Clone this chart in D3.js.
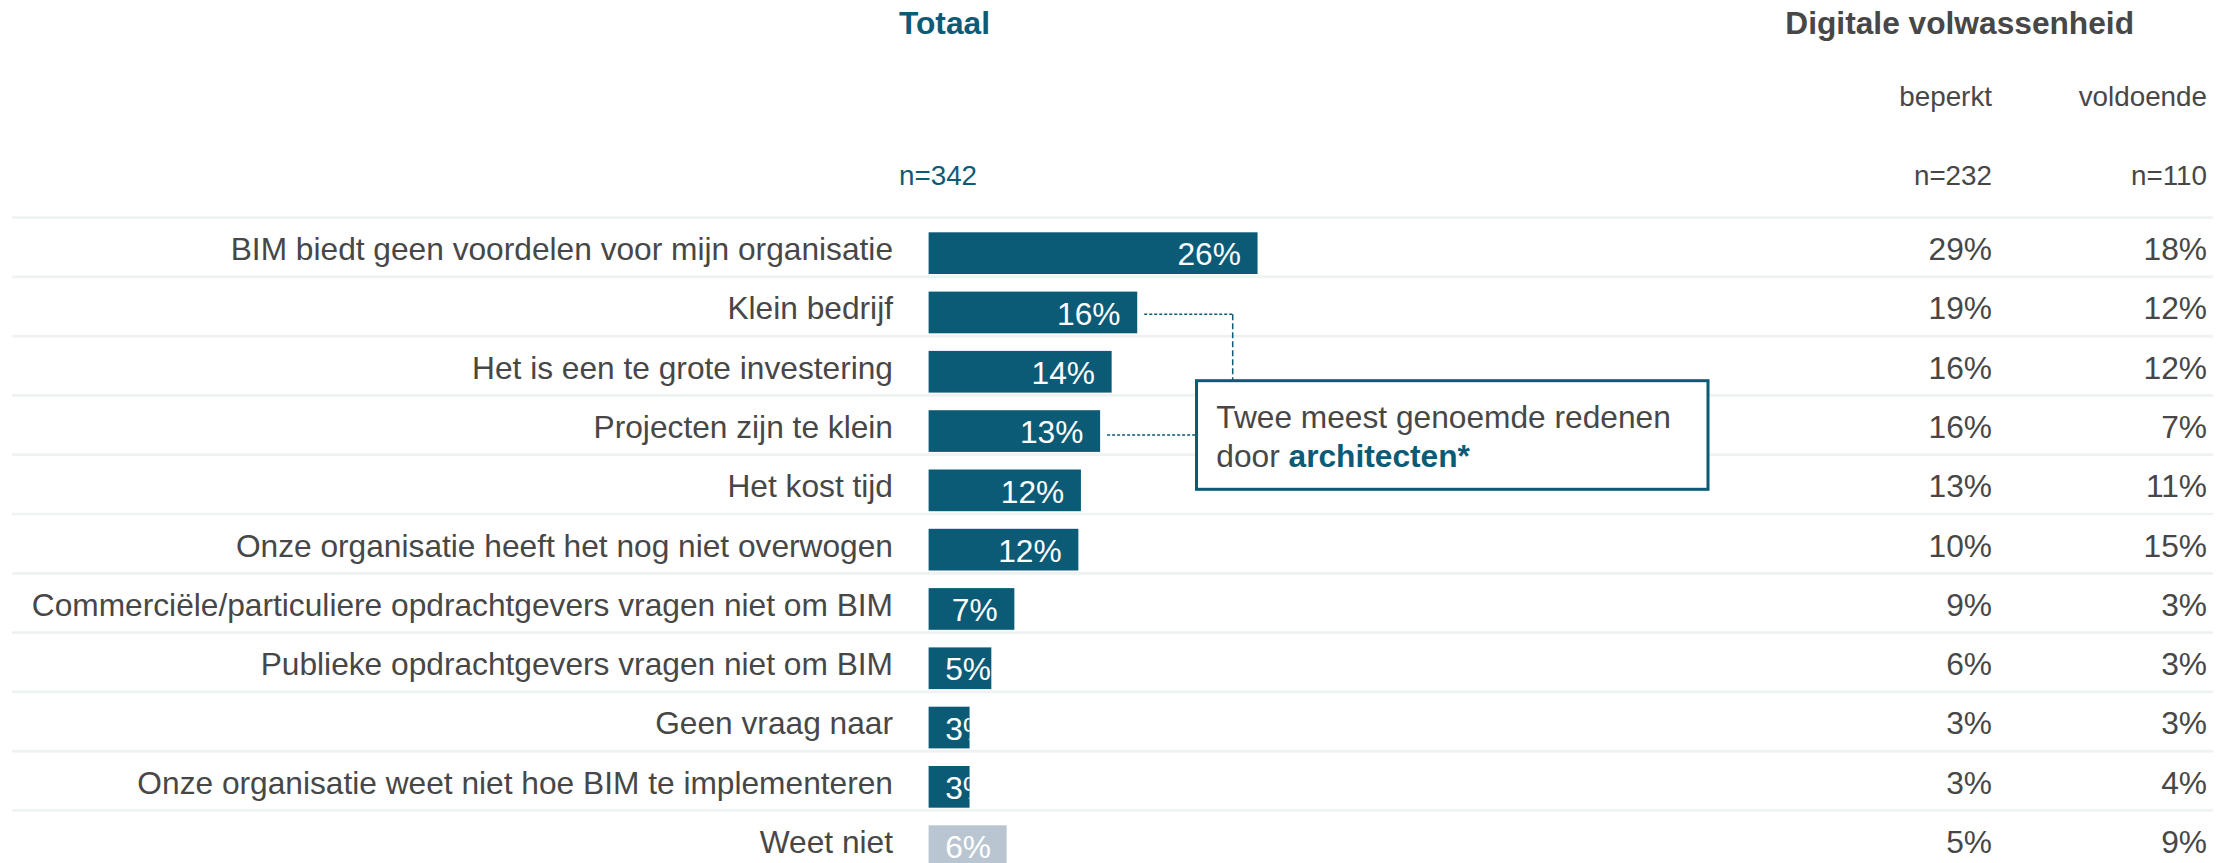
<!DOCTYPE html>
<html>
<head>
<meta charset="utf-8">
<script src="https://cdn.jsdelivr.net/npm/d3@7"></script>
<style>
  html, body { margin: 0; padding: 0; background: #fff; }
  svg { display: block; font-family: "Liberation Sans", Arial, sans-serif; }
</style>
</head>
<body>
<svg id="chart"></svg>
<script>
var width = 2223, height = 863;

var categories = [
  "BIM biedt geen voordelen voor mijn organisatie",
  "Klein bedrijf",
  "Het is een te grote investering",
  "Projecten zijn te klein",
  "Het kost tijd",
  "Onze organisatie heeft het nog niet overwogen",
  "Commerciële/particuliere opdrachtgevers vragen niet om BIM",
  "Publieke opdrachtgevers vragen niet om BIM",
  "Geen vraag naar",
  "Onze organisatie weet niet hoe BIM te implementeren",
  "Weet niet"
];
var totaal    = [25.7, 16.3, 14.3, 13.4, 11.9, 11.7, 6.7, 4.9, 3.2, 3.2, 6.1];
var beperkt   = [29, 19, 16, 16, 13, 10, 9, 6, 3, 3, 5];
var voldoende = [18, 12, 12, 7, 11, 15, 3, 3, 3, 4, 9];
var colHeads  = ["beperkt", "voldoende"];
var nLabels   = ["n=342", "n=232", "n=110"];
var highlighted = [1, 3];   // rows linked to the callout

var teal = "#0b5b77", grey = "#474747", light = "#b9c6d1", gridCol = "#eef2f2";
var fs = 31.7, fsSmall = 27.8;

var svg = d3.select("#chart").attr("width", width).attr("height", height);

var y = d3.scaleBand().domain(categories).range([217.5, 217.5 + 59.3 * categories.length]);
var x = d3.scaleLinear().domain([0, 30]).range([928.6, 928.6 + 384]);
var barOff = 14.8, barH = 41.7;

// headers
svg.append("text").attr("x", 899).attr("y", 34.3)
   .attr("fill", teal).style("font-size", fs + "px").style("font-weight", "bold").text("Totaal");
svg.append("text").attr("x", 2134).attr("y", 34.3).attr("text-anchor", "end")
   .attr("fill", grey).style("font-size", fs + "px").style("font-weight", "bold").text("Digitale volwassenheid");
var colX = [1992, 2207];
svg.selectAll(".colhead").data(colHeads).enter().append("text")
   .attr("x", (d, i) => colX[i]).attr("y", 106).attr("text-anchor", "end")
   .attr("fill", grey).style("font-size", fsSmall + "px").text(d => d);
svg.append("text").attr("x", 899).attr("y", 185)
   .attr("fill", teal).style("font-size", fsSmall + "px").text(nLabels[0]);
svg.selectAll(".nlab").data(nLabels.slice(1)).enter().append("text")
   .attr("x", (d, i) => colX[i]).attr("y", 185).attr("text-anchor", "end")
   .attr("fill", grey).style("font-size", fsSmall + "px").text(d => d);

// grid lines
var gridYs = categories.map(c => y(c)).concat([y.range()[1]]);
svg.selectAll(".grid").data(gridYs).enter().append("line")
   .attr("x1", 12).attr("x2", 2213).attr("y1", d => d).attr("y2", d => d)
   .attr("stroke", gridCol).attr("stroke-width", 2.7);

// category labels
svg.selectAll(".cat").data(categories).enter().append("text")
   .attr("x", 893).attr("y", d => y(d) + 42.5).attr("text-anchor", "end")
   .attr("fill", grey).style("font-size", fs + "px").text(d => d);

// bars with clipped value labels
var defs = svg.append("defs");
defs.selectAll("clipPath").data(categories).enter().append("clipPath")
    .attr("id", (d, i) => "clip" + i)
    .append("rect")
    .attr("x", x(0)).attr("y", d => y(d) + barOff)
    .attr("width", (d, i) => x(totaal[i]) - x(0)).attr("height", barH);

svg.selectAll(".bar").data(categories).enter().append("rect")
   .attr("x", x(0)).attr("y", d => y(d) + barOff)
   .attr("width", (d, i) => x(totaal[i]) - x(0)).attr("height", barH)
   .attr("fill", (d, i) => i == categories.length - 1 ? light : teal);

svg.selectAll(".val").data(categories).enter().append("text")
   .attr("clip-path", (d, i) => "url(#clip" + i + ")")
   .attr("y", d => y(d) + barOff + 33)
   .attr("fill", "#fff").style("font-size", fs + "px")
   .text((d, i) => Math.round(totaal[i]) + "%")
   .each(function(d, i) {
       var w = this.getComputedTextLength();
       var right = Math.max(x(totaal[i]) - 16.7, x(0) + 16.6 + w);
       d3.select(this).attr("x", right).attr("text-anchor", "end");
   });

// right hand columns
[beperkt, voldoende].forEach(function(vals, c) {
    svg.selectAll(".col" + c).data(vals).enter().append("text")
       .attr("x", colX[c]).attr("y", (d, i) => y(categories[i]) + 42.5)
       .attr("text-anchor", "end").attr("fill", grey).style("font-size", fs + "px")
       .text(d => d + "%");
});

// callout box
var box = {x: 1196.5, y: 380.7, w: 511.5, h: 108.6};
var rowA = categories[highlighted[0]], rowB = categories[highlighted[1]];
var yA = y(rowA) + barOff + barH / 2 + 1.7, yB = y(rowB) + barOff + barH / 2 + 4;
var elbowX = 1232.7;
svg.append("line")
   .attr("x1", x(totaal[highlighted[0]]) + 7).attr("x2", elbowX).attr("y1", yA).attr("y2", yA)
   .attr("stroke", teal).attr("stroke-width", 1.5).attr("stroke-dasharray", "3,2");
svg.append("line")
   .attr("x1", elbowX).attr("x2", elbowX).attr("y1", yA).attr("y2", box.y)
   .attr("stroke", teal).attr("stroke-width", 1.5).attr("stroke-dasharray", "6,3");
svg.append("line")
   .attr("x1", x(totaal[highlighted[1]]) + 7).attr("x2", box.x).attr("y1", yB).attr("y2", yB)
   .attr("stroke", teal).attr("stroke-width", 1.5).attr("stroke-dasharray", "3,2");
svg.append("rect").attr("x", box.x).attr("y", box.y).attr("width", box.w).attr("height", box.h)
   .attr("fill", "#fff").attr("stroke", teal).attr("stroke-width", 3);
svg.append("text").attr("x", 1216.3).attr("y", 427.7)
   .attr("fill", grey).style("font-size", fs + "px").text("Twee meest genoemde redenen");
var t2 = svg.append("text").attr("x", 1216.3).attr("y", 466.7)
   .attr("fill", grey).style("font-size", fs + "px");
t2.append("tspan").text("door ");
t2.append("tspan").attr("fill", teal).style("font-weight", "bold").text("architecten*");
</script>
</body>
</html>
